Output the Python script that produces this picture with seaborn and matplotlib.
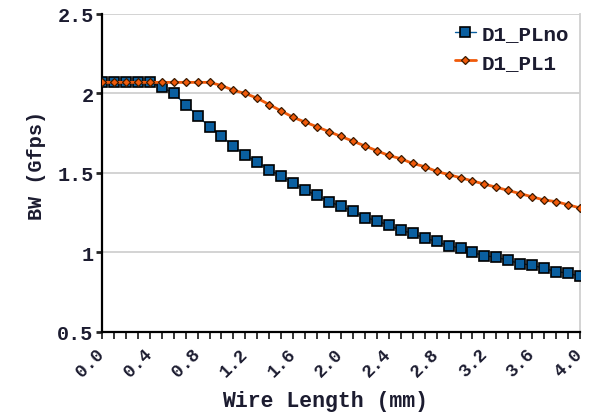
import matplotlib
matplotlib.use("Agg")
import matplotlib.pyplot as plt
import seaborn as sns
import pandas as pd
from matplotlib.ticker import MultipleLocator, FormatStrFormatter

# wire length in mm, 0.0 .. 4.0 step 0.1
wire_len = [round(0.1 * i, 1) for i in range(41)]

d1_plno = [2.07, 2.07, 2.07, 2.07, 2.07, 2.04, 2.00, 1.93, 1.86, 1.79,
           1.73, 1.67, 1.61, 1.57, 1.52, 1.48, 1.44, 1.39, 1.36, 1.32,
           1.29, 1.26, 1.22, 1.20, 1.17, 1.14, 1.12, 1.09, 1.07, 1.04,
           1.03, 1.00, 0.98, 0.97, 0.95, 0.93, 0.92, 0.90, 0.88, 0.87,
           0.85]

d1_pl1 = [2.07, 2.07, 2.07, 2.07, 2.07, 2.07, 2.07, 2.07, 2.07, 2.07,
          2.05, 2.02, 2.00, 1.97, 1.93, 1.89, 1.85, 1.82, 1.79, 1.76,
          1.73, 1.70, 1.67, 1.64, 1.61, 1.59, 1.56, 1.54, 1.51, 1.49,
          1.47, 1.45, 1.43, 1.41, 1.39, 1.37, 1.35, 1.33, 1.32, 1.30,
          1.28]

df = pd.DataFrame({"len": wire_len, "D1_PLno": d1_plno, "D1_PL1": d1_pl1})

sns.set_style("white")
plt.rcParams["font.family"] = ["Liberation Mono", "DejaVu Sans Mono"]
plt.rcParams["font.weight"] = "bold"
plt.rcParams["text.color"] = "#1c1c30"
plt.rcParams["axes.labelcolor"] = "#1c1c30"
plt.rcParams["xtick.labelcolor"] = "#1c1c30"
plt.rcParams["ytick.labelcolor"] = "#1c1c30"

fig = plt.figure(figsize=(5.95, 4.14), dpi=100)
ax = fig.add_axes([0.1714, 0.1957, 0.8034, 0.7681])

sns.lineplot(data=df, x="len", y="D1_PLno", ax=ax, color="#0a5fa0",
             lw=1.0, marker="s", markersize=7, markeredgecolor="black",
             markeredgewidth=1.2, label="D1_PLno", zorder=3)
sns.lineplot(data=df, x="len", y="D1_PL1", ax=ax, color="#f05a0a",
             lw=2.0, marker="D", markersize=4.2, markeredgecolor="#3a1a00",
             markeredgewidth=0.9, label="D1_PL1", zorder=4)

ax.set_xlim(0, 4.0)
ax.set_ylim(0.5, 2.5)
ax.set_yticks([0.5, 1.0, 1.5, 2.0, 2.5])
ax.set_yticklabels(["0.5", "1", "1.5", "2", "2.5"])
ax.xaxis.set_major_locator(MultipleLocator(0.4))
ax.xaxis.set_minor_locator(MultipleLocator(0.1))
ax.xaxis.set_major_formatter(FormatStrFormatter("%.1f"))

ax.grid(axis="y", color="#d0d0d0", lw=1.3)
ax.grid(axis="x", visible=False)
for s in ["left", "bottom"]:
    ax.spines[s].set_color("black")
    ax.spines[s].set_linewidth(1.6)
ax.spines["right"].set_color("#d0d0d0")
ax.spines["right"].set_linewidth(1.3)
ax.spines["top"].set_visible(False)

ax.tick_params(axis="y", direction="out", length=4, width=2, labelsize=14.5,
               left=True, pad=2)
ax.tick_params(axis="x", which="both", direction="out", length=5, width=1.3,
               bottom=True, labelsize=13, pad=9)
plt.setp(ax.get_xticklabels(), rotation=45, ha="right", va="center",
         rotation_mode="anchor")

ax.set_xlabel("Wire Length (mm)", fontsize=15.5, fontweight="bold", va="center")
ax.xaxis.set_label_coords(0.467, -0.214)
ax.set_ylabel("BW (Gfps)", fontsize=14.5, fontweight="bold", va="center")
ax.yaxis.set_label_coords(-0.138, 0.528)

leg = ax.legend(loc="upper right", frameon=False, fontsize=15,
                handlelength=1.0, handletextpad=0.3, borderaxespad=0.5,
                borderpad=0.0, labelspacing=0.45)

fig.savefig("out.png", dpi=100)
